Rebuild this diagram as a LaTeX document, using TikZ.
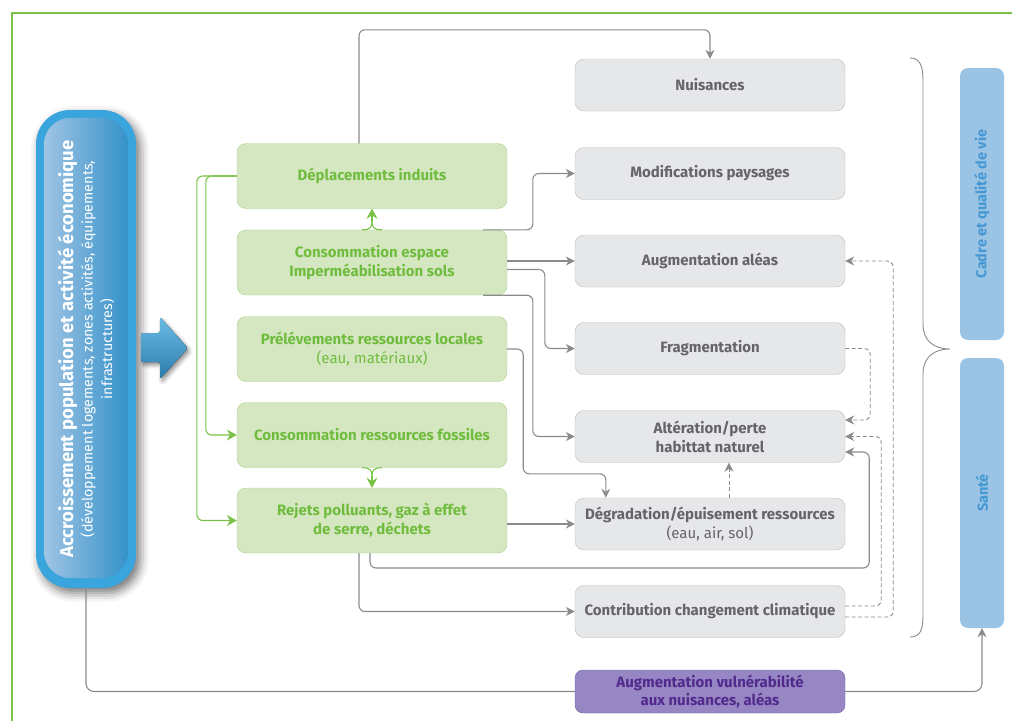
\documentclass[tikz,border=0pt]{standalone}
\usepackage{fontspec}
\setmainfont{Fira Sans}
\usetikzlibrary{arrows.meta,positioning,calc,shadows.blur}

\definecolor{framegreen}{RGB}{120,195,70}
\definecolor{greenfill}{RGB}{213,231,193}
\definecolor{greendraw}{RGB}{168,212,135}
\definecolor{greentext}{RGB}{112,188,62}
\definecolor{greyfill}{RGB}{230,231,232}
\definecolor{greydraw}{RGB}{188,188,190}
\definecolor{greytext}{RGB}{100,100,106}
\definecolor{greyline}{RGB}{138,138,143}
\definecolor{popouter}{RGB}{58,165,220}
\definecolor{popdark}{RGB}{52,146,202}
\definecolor{poplight}{RGB}{160,196,228}
\definecolor{sidefill}{RGB}{155,195,228}
\definecolor{sidetext}{RGB}{68,152,212}
\definecolor{vulfill}{RGB}{150,135,196}
\definecolor{vuldraw}{RGB}{112,92,168}
\definecolor{vultext}{RGB}{82,42,140}

\begin{document}
\begin{tikzpicture}[x=1pt,y=-1pt,
    greenbox/.style={draw=greendraw,fill=greenfill,text=greentext,rounded corners=9pt,
      minimum width=270pt,minimum height=65pt,inner sep=0pt,align=center,
      font=\bfseries\fontsize{15}{19}\selectfont},
    greybox/.style={draw=greydraw,fill=greyfill,text=greytext,rounded corners=9pt,
      minimum width=270pt,minimum height=52pt,inner sep=0pt,align=center,
      font=\bfseries\fontsize{15}{19}\selectfont},
    sidebox/.style={fill=sidefill,text=sidetext,rounded corners=8pt,rotate=90,
      minimum width=272pt,minimum height=44pt,inner sep=0pt,
      font=\bfseries\fontsize{14.5}{16}\selectfont},
    greyarrow/.style={draw=greyline,line width=1.1pt,rounded corners=6pt,
      -{Stealth[length=9pt,width=9pt]}},
    dasharrow/.style={greyarrow,dash pattern=on 4pt off 2.5pt,line width=0.9pt},
    greenarrow/.style={draw=framegreen,line width=1.1pt,rounded corners=6pt,
      -{Stealth[length=10pt,width=11pt]}},
    greenline/.style={draw=framegreen,line width=1.1pt}]

  \useasboundingbox (0,0) rectangle (1012,721);

  % frame
  \draw[framegreen,line width=1.5pt] (12,721) -- (12,13) -- (1012,13);

  % population box
  \node[fill=popouter,rounded corners=34pt,minimum width=100pt,minimum height=478pt,
    blur shadow={shadow xshift=4pt,shadow yshift=-5pt,shadow blur radius=9pt,shadow opacity=55}]
    (pop) at (86,349) {};
  \path[left color=poplight,middle color=popdark,right color=popdark,rounded corners=27pt]
    ($(pop.north west)+(8,8)$) rectangle ($(pop.south east)+(-8,-10)$);
  \node[rotate=90,text=white,align=center,font=\fontsize{14.3}{19.5}\selectfont] (poptext) at (pop.center)
    {{\bfseries\fontsize{18.5}{20}\selectfont Accroissement population et activité économique}\\
     (développement logements, zones activités, équipements,\\ infrastructures)};

  % big arrow
  \fill[top color=popouter!75!white,bottom color=popdark!85!black,rounded corners=2pt,
    blur shadow={shadow xshift=2pt,shadow yshift=-3pt,shadow blur radius=4pt,shadow opacity=45}]
    (141,333) -- (160,333) -- (160,317) -- (188,348) -- (160,379) -- (160,362) -- (141,362) -- cycle;

  % green boxes
  \node[greenbox] (depl) at (372,176) {Déplacements induits};
  \node[greenbox] (conso) at (372,262.5) {Consommation espace\\Imperméabilisation sols};
  \node[greenbox] (prel) at (372,349) {Prélévements ressources locales\\{\mdseries (eau, matériaux)}};
  \node[greenbox] (fossiles) at (372,435) {Consommation ressources fossiles};
  \node[greenbox] (rejets) at (372,520.5) {Rejets polluants, gaz à effet\\de serre, déchets};

  % grey boxes
  \node[greybox] (nuis) at (710,85) {Nuisances};
  \node[greybox] (modif) at (710,173.5) {Modifications paysages};
  \node[greybox] (alea) at (710,261) {Augmentation aléas};
  \node[greybox] (frag) at (710,348.5) {Fragmentation};
  \node[greybox] (alter) at (710,436.5) {Altération/perte\\habittat naturel};
  \node[greybox] (degr) at (710,524) {Dégradation/épuisement ressources\\{\mdseries (eau, air, sol)}};
  \node[greybox] (contrib) at (710,611.5) {Contribution changement climatique};

  % right side
  \node[sidebox] (cadre) at (982,204) {Cadre et qualité de vie};
  \node[sidebox,minimum width=270pt] (sante) at (982,493) {Santé};
  \draw[greyline,line width=0.9pt] (910,58) .. controls (920,58) and (923,66) .. (923,80)
    -- (923,324) .. controls (923,341) and (934,349) .. (950,349)
    .. controls (934,349) and (923,357) .. (923,374)
    -- (923,616) .. controls (923,630) and (920,637) .. (910,637);

  % vulnerability
  \node[draw=vuldraw,fill=vulfill,text=vultext,rounded corners=8pt,minimum width=270pt,
    minimum height=43pt,inner sep=0pt,align=center,font=\bfseries\fontsize{15}{18}\selectfont]
    (vul) at (710,691.5) {Augmentation vulnérabilité\\aux nuisances, aléas};
  \draw[greyline,line width=1.1pt,rounded corners=8pt] (pop.south) |- (vul.west);
  \draw[greyarrow,rounded corners=8pt] (vul.east) -| (sante.west);

  % green arcs
  \draw[greenarrow] (depl.west) -- ++(-40,0) |- (rejets.west);
  \draw[greenarrow] (depl.west) -- ++(-31,0) |- (fossiles.west);
  \draw[greenline] ($(conso.north)+(-10,0)$) .. controls ($(conso.north)+(-1,0)$) and ($(conso.north)+(0,-3)$) .. ($(conso.north)+(0,-9)$);
  \draw[greenline] ($(conso.north)+(10,0)$) .. controls ($(conso.north)+(1,0)$) and ($(conso.north)+(0,-3)$) .. ($(conso.north)+(0,-9)$);
  \draw[greenarrow] ($(conso.north)+(0,-8)$) -- (depl.south);
  \draw[greenline] ($(fossiles.south)+(-10,0)$) .. controls ($(fossiles.south)+(-1,0)$) and ($(fossiles.south)+(0,3)$) .. ($(fossiles.south)+(0,9)$);
  \draw[greenline] ($(fossiles.south)+(10,0)$) .. controls ($(fossiles.south)+(1,0)$) and ($(fossiles.south)+(0,3)$) .. ($(fossiles.south)+(0,9)$);
  \draw[greenarrow] ($(fossiles.south)+(0,8)$) -- (rejets.north);

  % grey arcs
  \draw[greyarrow] ($(depl.north)+(-13,0)$) |- ($(nuis.north)+(0,-29)$) -- (nuis.north);
  \draw[greyarrow] ($(conso.north east)+(-24,0)$) -| ($(modif.west)+(-42,0)$) -- (modif.west);
  \draw[greyarrow] (conso.east |- alea.west) -- (alea.west);
  \draw[greyarrow] ($(conso.east)+(0,7)$) -| ($(frag.west)+(-30,0)$) -- (frag.west);
  \draw[greyarrow] ($(conso.south east)+(-24,0)$) -| ($(alter.west)+(-42,0)$) -- (alter.west);
  \draw[greyarrow] (prel.east) -- ++(16,0) |- ($(degr.north west)+(31,-24)$) -- ($(degr.north west)+(31,0)$);
  \draw[greyarrow] (rejets.east |- degr.west) -- (degr.west);
  \draw[greyarrow] ($(rejets.south)+(-2,0)$) |- ($(alter.east)+(24,131.5)$) |- ($(alter.east)+(0,15.5)$);
  \draw[greyarrow] ($(rejets.south)+(-13,0)$) |- (contrib.west);

  % dashed arcs
  \draw[dasharrow] (frag.east) -- ++(25,0) |- ($(alter.east)+(0,-16.5)$);
  \draw[dasharrow] ($(degr.north)+(19,0)$) -- ($(alter.south)+(19,0)$);
  \draw[dasharrow] ($(contrib.east)+(0,-5.5)$) -- ++(36,0) |- (alter.east);
  \draw[dasharrow] ($(contrib.east)+(0,5.5)$) -- ++(48,0) |- (alea.east);

\end{tikzpicture}
\end{document}
